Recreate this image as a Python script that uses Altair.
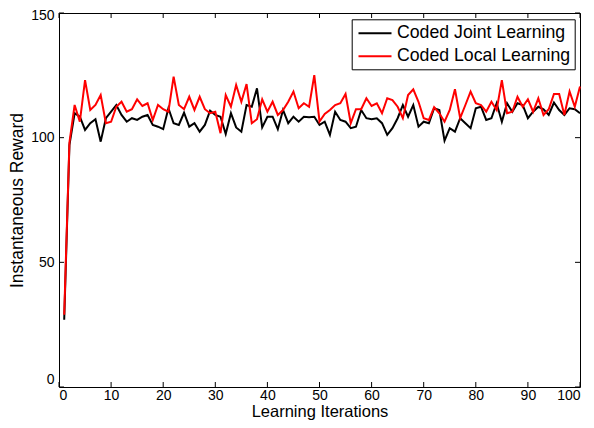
import altair as alt
import pandas as pd

iterations = list(range(1, 101))

joint = [27, 97, 109.8, 108.4, 103.1, 105.8, 107.4, 98.4, 107.8, 110.4,
         113.1, 109.1, 106.4, 107.8, 107.1, 108.4, 109.1, 105.1, 104.4, 103.4,
         111.8, 105.8, 105.1, 110.0, 104.4, 105.8, 102.4, 105.1, 110.8, 109.1,
         108.4, 101.5, 109.8, 104.1, 102.4, 113.1, 112.4, 119.8, 104.1, 108.4,
         108.4, 103.4, 111.1, 105.8, 108.4, 106.4, 108.4, 108.2, 108.4, 105.1,
         106.4, 101.1, 110.4, 107.1, 106.4, 103.8, 104.4, 111.1, 107.8, 107.4,
         107.8, 105.8, 101.1, 103.8, 107.8, 113.1, 108.4, 113.1, 104.4, 106.4,
         105.8, 111.8, 111.1, 98.8, 103.8, 102.4, 107.8, 105.8, 103.8, 111.8,
         112.4, 107.1, 107.8, 113.8, 106.4, 113.8, 110.4, 113.8, 113.1, 107.8,
         110.4, 112.4, 111.4, 109.1, 114.1, 111.1, 109.1, 111.8, 111.4, 109.8]

local = [29, 98, 113.1, 106.4, 123.1, 111.1, 113.1, 117.1, 105.8, 106.4,
         112.4, 114.4, 110.4, 111.4, 115.4, 112.7, 113.8, 107.1, 113.1, 111.4,
         110.4, 124.5, 113.1, 111.4, 116.4, 111.1, 116.4, 111.4, 109.8, 110.4,
         101.8, 117.1, 112.4, 121.1, 114.4, 121.5, 105.8, 107.4, 115.4, 110.4,
         114.4, 109.1, 111.1, 114.4, 118.5, 111.8, 113.8, 112.4, 125.1, 106.5,
         109.5, 111.1, 113.1, 113.8, 117.5, 105.8, 111.4, 111.4, 115.8, 112.7,
         113.8, 109.8, 115.8, 115.1, 112.4, 107.8, 117.1, 119.4, 114.4, 107.8,
         107.1, 112.2, 109.8, 106.4, 111.1, 119.4, 107.8, 113.1, 118.5, 113.8,
         113.1, 110.4, 114.4, 111.1, 123.1, 109.8, 110.4, 116.4, 112.4, 115.4,
         110.4, 115.8, 109.1, 111.4, 117.5, 117.5, 109.1, 118.5, 112.4, 120.5]

series_names = ["Coded Joint Learning", "Coded Local Learning"]
series_colors = ["#000000", "#ff0000"]

x_ticks = [0, 10, 20, 30, 40, 50, 60, 70, 80, 90, 100]
y_ticks = [0, 50, 100, 150]

W, H = 521, 374
FONT = "Liberation Sans"

df = pd.DataFrame({
    "iter": iterations * 2,
    "reward": joint + local,
    "series": [series_names[0]] * len(joint) + [series_names[1]] * len(local),
    "order": [0] * len(joint) + [1] * len(local),
})

xscale = alt.Scale(domain=[0, 100], nice=False, zero=False)
yscale = alt.Scale(domain=[0, 150], nice=False)

x_axis = alt.Axis(values=x_ticks, title="Learning Iterations", ticks=False,
                  grid=False, domain=False, labelFontSize=14, titleFontSize=16.5,
                  labelFont=FONT, titleFont=FONT, labelColor="black",
                  titleColor="black", titleFontWeight="normal",
                  labelPadding=1, titlePadding=1.7)
y_axis = alt.Axis(values=y_ticks, title="Instantaneous Reward", ticks=False,
                  grid=False, domain=False, labelFontSize=14, titleFontSize=17.5,
                  labelFont=FONT, titleFont=FONT, labelColor="black",
                  titleColor="black", titleFontWeight="normal",
                  labelPadding=5, titlePadding=4,
                  labelOffset={"condition": [
                      {"test": "datum.value === 0", "value": -8},
                      {"test": "datum.value === 150", "value": 2}],
                      "value": 0})

lines = alt.Chart(df).mark_line(strokeWidth=2).encode(
    x=alt.X("iter:Q", scale=xscale, axis=x_axis),
    y=alt.Y("reward:Q", scale=yscale, axis=y_axis),
    color=alt.Color("series:N",
                    scale=alt.Scale(domain=series_names, range=series_colors),
                    legend=alt.Legend(title=None, orient="none", legendX=292.7, legendY=6.3,
                                      strokeColor="black", fillColor="white",
                                      padding=4, symbolType="M-1.833,0H1.833",
                                      symbolSize=324, symbolStrokeWidth=2,
                                      symbolOffset=9.3, labelOffset=12,
                                      labelFontSize=17.7, labelFont=FONT,
                                      labelLimit=400,
                                      labelColor="black", rowPadding=4)),
    detail="order:N",
)

xt = pd.DataFrame({"iter": x_ticks})
yt = pd.DataFrame({"reward": y_ticks})

tick_bottom = alt.Chart(xt).mark_rule(color="black", strokeWidth=1).encode(
    x=alt.X("iter:Q", scale=xscale, axis=x_axis), y=alt.value(H), y2=alt.value(H - 5))
tick_top = alt.Chart(xt).mark_rule(color="black", strokeWidth=1).encode(
    x=alt.X("iter:Q", scale=xscale, axis=x_axis), y=alt.value(0), y2=alt.value(5))
tick_left = alt.Chart(yt).mark_rule(color="black", strokeWidth=1).encode(
    y=alt.Y("reward:Q", scale=yscale, axis=y_axis), x=alt.value(0), x2=alt.value(5))
tick_right = alt.Chart(yt).mark_rule(color="black", strokeWidth=1).encode(
    y=alt.Y("reward:Q", scale=yscale, axis=y_axis), x=alt.value(W), x2=alt.value(W - 5))

chart = alt.layer(lines, tick_bottom, tick_top, tick_left, tick_right).properties(
    width=W, height=H,
    autosize=alt.AutoSizeParams(type="none"),
    padding={"left": 51, "top": 5, "right": 5, "bottom": 33},
    background="white",
).configure_view(stroke="black", strokeWidth=1)

chart.save("out.html", embed_options={"renderer": "svg", "actions": False})
